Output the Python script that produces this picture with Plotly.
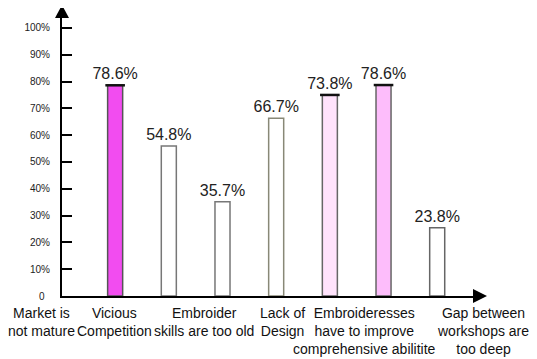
import plotly.graph_objects as go

# ---- data ----
bar_heights = [78.6, 56.0, 35.2, 66.3, 75.0, 78.7, 25.5]     # drawn bar heights (%)
value_labels = ["78.6%", "54.8%", "35.7%", "66.7%", "73.8%", "78.6%", "23.8%"]
category_labels = [
    "Market is<br>not mature",
    "Vicious<br>Competition",
    "Embroider<br>skills are too old",
    "Lack of<br>Design",
    "Embroideresses<br>have to improve<br>comprehensive abilitite",
    "Gap between<br>workshops are<br>too deep",
]
y_tick_vals = [0, 10, 20, 30, 40, 50, 60, 70, 80, 90, 100]
y_tick_text = ["0\u00a0\u00a0", "10%", "20%", "30%", "40%", "50%", "60%", "70%", "80%", "90%", "100%"]

# ---- styling ----
bar_fill = ["#F24CF0", "#FFFFFF", "#FFFFFF", "#FFFFFF", "#FFE3FC", "#FDBDFB", "#FFFFFF"]
bar_edge = ["#555555", "#777777", "#777777", "#888877", "#666666", "#666666", "#666666"]
label_x = [-0.0493, 0.125, 0.341, 0.529, 0.726, 1.012]   # paper coords
dark_top = [0, 4, 5]
font_family = "Liberation Sans, Arial, sans-serif"

xs = list(range(len(bar_heights)))

fig = go.Figure()
fig.add_trace(go.Bar(
    x=xs, y=bar_heights, width=0.28,
    marker=dict(color=bar_fill, line=dict(color=bar_edge, width=1.5)),
    text=value_labels, textposition="outside", cliponaxis=False,
    constraintext="none",
    textfont=dict(size=16, color="#222222", family=font_family),
    hoverinfo="skip",
))
fig.add_trace(go.Scatter(
    x=[xs[i] for i in dark_top], y=[bar_heights[i] for i in dark_top],
    mode="markers", cliponaxis=False,
    marker=dict(symbol="line-ew", size=14, line=dict(width=2.5, color="#111111")),
    hoverinfo="skip",
))

for lx, txt in zip(label_x, category_labels):
    fig.add_annotation(x=lx, xref="paper", y=0, yref="paper", yshift=-7,
                       yanchor="top", xanchor="center", align="center",
                       text=txt, showarrow=False,
                       font=dict(size=14, color="#111111", family=font_family))

# axis arrows
fig.add_shape(type="path", xref="paper", yref="paper",
              xsizemode="pixel", ysizemode="pixel", xanchor=0, yanchor=1,
              path="M-7,-4 L7,-4 L0,9 Z", fillcolor="black", line=dict(width=0))
fig.add_shape(type="path", xref="paper", yref="paper",
              xsizemode="pixel", ysizemode="pixel", xanchor=1, yanchor=0,
              path="M-5,-7 L-5,7 L9,0 Z", fillcolor="black", line=dict(width=0))

fig.update_layout(
    width=529, height=351,
    margin=dict(l=54, r=59, t=6, b=63),
    paper_bgcolor="white", plot_bgcolor="white",
    showlegend=False,
    font=dict(family=font_family, color="#111111"),
    xaxis=dict(range=[-0.99, 6.76], showgrid=False, zeroline=False,
               showticklabels=False, ticks="", showline=True,
               linecolor="black", linewidth=2),
    yaxis=dict(range=[0, 105.2], showgrid=False, zeroline=False,
               tickvals=y_tick_vals, ticktext=y_tick_text,
               ticks="inside", ticklen=10, tickwidth=2, tickcolor="black",
               showline=True, linecolor="black", linewidth=2,
               tickfont=dict(size=10, color="#222222", family=font_family),
               ticklabelstandoff=8),
)

fig.write_html("out.html")
